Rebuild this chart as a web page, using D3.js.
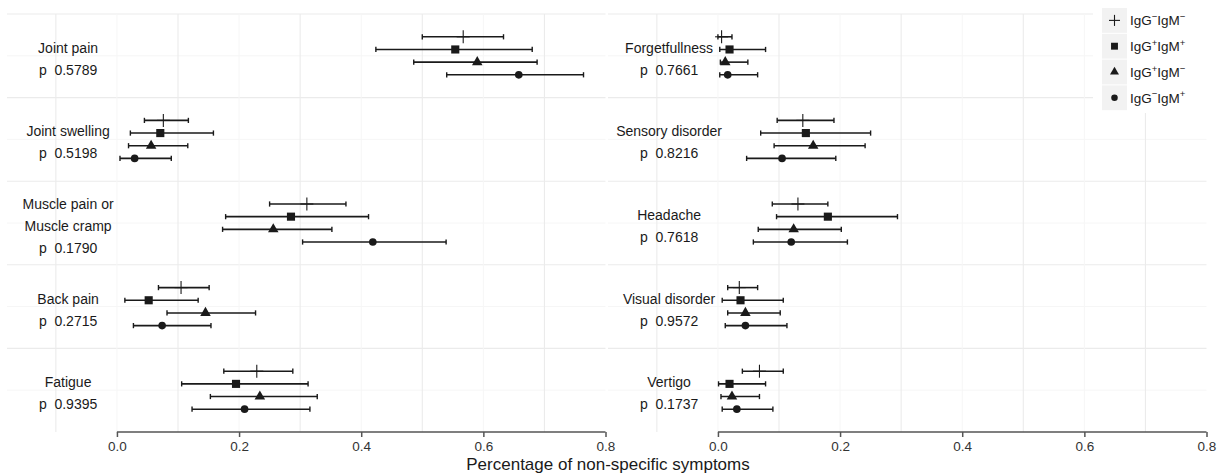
<!DOCTYPE html>
<html><head><meta charset="utf-8">
<script src="https://cdn.jsdelivr.net/npm/d3@7"></script>
<style>
body{margin:0;background:#fff;}
text{font-family:"Liberation Sans",Arial,Helvetica,sans-serif;}
</style>
</head><body>
<svg id="chart" width="1222" height="475"></svg>
<script>
// ---------------- data ----------------
const groups = ["IgG-IgM-", "IgG+IgM+", "IgG+IgM-", "IgG-IgM+"];
const groupSigns = [["−", "−"], ["+", "+"], ["+", "−"], ["−", "+"]];
const groupShapes = ["plus", "square", "triangle", "circle"];

const symptoms = ["Joint pain", "Joint swelling", "Muscle pain or\nMuscle cramp", "Back pain", "Fatigue",
                  "Forgetfullness", "Sensory disorder", "Headache", "Visual disorder", "Vertigo"];
const pValues = ["0.5789", "0.5198", "0.1790", "0.2715", "0.9395",
                 "0.7661", "0.8216", "0.7618", "0.9572", "0.1737"];
const panelColumn = [0, 0, 0, 0, 0, 1, 1, 1, 1, 1];
const panelRow    = [0, 1, 2, 3, 4, 0, 1, 2, 3, 4];

// per symptom: values for groups in order IgG-IgM-, IgG+IgM+, IgG+IgM-, IgG-IgM+
const estimate = [
  [0.567, 0.554, 0.590, 0.658],
  [0.076, 0.071, 0.056, 0.029],
  [0.311, 0.285, 0.256, 0.419],
  [0.105, 0.052, 0.145, 0.074],
  [0.229, 0.195, 0.234, 0.209],
  [0.006, 0.019, 0.012, 0.016],
  [0.139, 0.144, 0.156, 0.105],
  [0.131, 0.180, 0.124, 0.120],
  [0.035, 0.037, 0.045, 0.045],
  [0.068, 0.019, 0.023, 0.031]
];
const lower = [
  [0.500, 0.424, 0.486, 0.540],
  [0.045, 0.022, 0.019, 0.005],
  [0.250, 0.178, 0.173, 0.304],
  [0.068, 0.013, 0.082, 0.027],
  [0.175, 0.106, 0.153, 0.123],
  [0.000, 0.003, 0.004, 0.003],
  [0.097, 0.070, 0.092, 0.047],
  [0.089, 0.096, 0.066, 0.058],
  [0.016, 0.007, 0.016, 0.012],
  [0.040, 0.001, 0.005, 0.007]
];
const upper = [
  [0.633, 0.680, 0.688, 0.764],
  [0.117, 0.158, 0.116, 0.089],
  [0.375, 0.412, 0.352, 0.539],
  [0.151, 0.133, 0.227, 0.154],
  [0.288, 0.313, 0.328, 0.316],
  [0.023, 0.078, 0.049, 0.065],
  [0.190, 0.250, 0.241, 0.193],
  [0.180, 0.294, 0.202, 0.212],
  [0.065, 0.107, 0.102, 0.113],
  [0.107, 0.078, 0.068, 0.090]
];
const xTicks = [0, 0.2, 0.4, 0.6, 0.8];
const xTickLabels = ["0.0", "0.2", "0.4", "0.6", "0.8"];
const gridValues = [-0.1, 0, 0.1, 0.2, 0.3, 0.4, 0.5, 0.6, 0.7];
const xTitle = "Percentage of non-specific symptoms";

// ---------------- layout ----------------
const svg = d3.select("#chart");
const xDomain = [-0.18, 0.8];
const xScales = [
  d3.scaleLinear().domain(xDomain).range([7, 605.5]),
  d3.scaleLinear().domain(xDomain).range([608, 1206.5])
];
const rowScale = d3.scaleBand().domain(d3.range(5)).range([14, 432]).paddingInner(0).paddingOuter(0);
const levelScale = d3.scalePoint().domain(groups).range([-19, 19]);
const bw = rowScale.bandwidth();
const ink = "#1a1a1a";

// ---------------- grid ----------------
const grid = svg.append("g");
xScales.forEach((xs, c) => {
  const [r0, r1] = xs.range();
  d3.range(5).forEach(r => {
    const y0 = rowScale(r);
    grid.append("line").attr("x1", r0).attr("x2", r1).attr("y1", y0).attr("y2", y0)
      .attr("stroke", "#ebebeb").attr("stroke-width", 1.1);
    grid.append("line").attr("x1", r0).attr("x2", r1).attr("y1", y0 + bw / 2).attr("y2", y0 + bw / 2)
      .attr("stroke", "#f6f6f6").attr("stroke-width", 1);
  });
  gridValues.forEach(v => {
    const odd = Math.round(v * 10) % 2 !== 0;
    grid.append("line").attr("x1", xs(v)).attr("x2", xs(v)).attr("y1", 14).attr("y2", 432)
      .attr("stroke", odd ? "#ebebeb" : "#f6f6f6").attr("stroke-width", odd ? 1.1 : 1);
  });
});

// ---------------- marks ----------------
const marks = svg.append("g");
function drawShape(g, shape, x, y, scale) {
  const k = scale || 1;
  if (shape === "plus") {
    g.append("line").attr("x1", x).attr("x2", x).attr("y1", y - 6.5 * k).attr("y2", y + 6.5 * k)
      .attr("stroke", ink).attr("stroke-width", 1.1);
    g.append("line").attr("x1", x - 6.5 * k).attr("x2", x + 6.5 * k).attr("y1", y).attr("y2", y)
      .attr("stroke", ink).attr("stroke-width", 1.1);
  } else {
    const type = shape === "square" ? d3.symbolSquare : shape === "triangle" ? d3.symbolTriangle : d3.symbolCircle;
    const size = shape === "square" ? 66 : shape === "triangle" ? 48 : 46;
    g.append("path").attr("d", d3.symbol().type(type).size(size * k * k)())
      .attr("transform", `translate(${x},${y})`).attr("fill", ink);
  }
}

symptoms.forEach((name, i) => {
  const xs = xScales[panelColumn[i]];
  const mid = rowScale(panelRow[i]) + bw / 2;
  const lines = name.split("\n").concat(["p  " + pValues[i]]);
  const lx = xs(-0.08);
  const t = marks.append("text").attr("text-anchor", "middle").attr("font-size", 14).attr("fill", ink);
  lines.forEach((ln, j) => {
    t.append("tspan").attr("x", lx).attr("y", mid + 3 + (j - (lines.length - 1) / 2) * 22)
      .attr("dy", "0.35em").attr("xml:space", "preserve").text(ln);
  });
  groups.forEach((gname, gi) => {
    const y = mid + levelScale(gname);
    const g = marks.append("g");
    g.append("line").attr("x1", xs(lower[i][gi])).attr("x2", xs(upper[i][gi])).attr("y1", y).attr("y2", y)
      .attr("stroke", ink).attr("stroke-width", 1.6);
    [lower[i][gi], upper[i][gi]].forEach(v => {
      g.append("line").attr("x1", xs(v)).attr("x2", xs(v)).attr("y1", y - 2.6).attr("y2", y + 2.6)
        .attr("stroke", ink).attr("stroke-width", 1.4);
    });
    drawShape(g, groupShapes[gi], xs(estimate[i][gi]), y);
  });
});

// ---------------- axes ----------------
xScales.forEach(xs => {
  const ax = svg.append("g").attr("transform", "translate(0,432)")
    .call(d3.axisBottom(xs).tickValues(xTicks).tickFormat((d, i) => xTickLabels[i]).tickSize(5).tickPadding(4).tickSizeOuter(0));
  ax.select(".domain").remove();
  ax.append("line").attr("x1", xs(0)).attr("x2", xs(0.8)).attr("y1", 0).attr("y2", 0)
    .attr("stroke", "#555").attr("stroke-width", 1.5);
  ax.selectAll(".tick line").attr("stroke", "#555").attr("stroke-width", 1.5);
  ax.selectAll(".tick text").attr("font-size", 13.5).attr("fill", "#333")
    .attr("font-family", "'Liberation Sans', Arial, sans-serif");
});
svg.append("text").attr("x", 608).attr("y", 470).attr("text-anchor", "middle")
  .attr("font-size", 17).attr("fill", ink).text(xTitle);

// ---------------- legend ----------------
const leg = svg.append("g");
leg.append("rect").attr("x", 1093).attr("y", 0).attr("width", 129).attr("height", 113).attr("fill", "#fff");
groups.forEach((gname, gi) => {
  const y0 = 8 + gi * 25.8;
  leg.append("rect").attr("x", 1102).attr("y", y0).attr("width", 25).attr("height", 24.8).attr("fill", "#f2f2f2");
  const cy = y0 + 12.4;
  drawShape(leg, groupShapes[gi], 1114.5, cy, 0.85);
  const base = cy + 5;
  const t = leg.append("text").attr("x", 1130).attr("y", base).attr("font-size", 13.5).attr("fill", ink);
  t.append("tspan").attr("y", base).text("IgG");
  t.append("tspan").attr("y", base - 5.5).attr("font-size", 9.5).text(groupSigns[gi][0]);
  t.append("tspan").attr("y", base).text("IgM");
  t.append("tspan").attr("y", base - 5.5).attr("font-size", 9.5).text(groupSigns[gi][1]);
});
</script>
</body></html>
